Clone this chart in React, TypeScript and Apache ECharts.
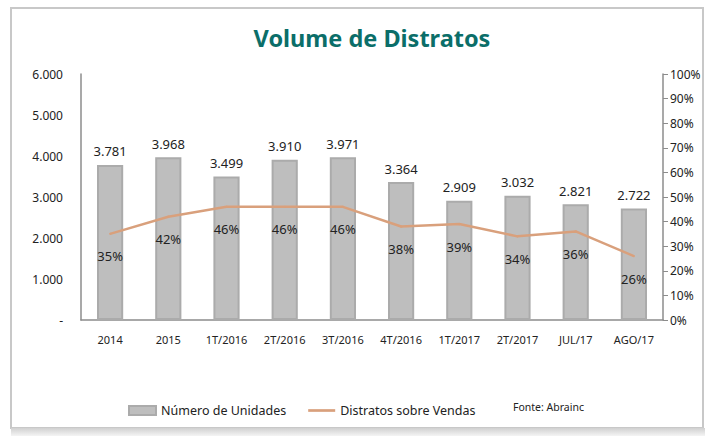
import React, { useEffect, useRef } from "react";
import * as echarts from "echarts";

const categories = ["2014", "2015", "1T/2016", "2T/2016", "3T/2016", "4T/2016", "1T/2017", "2T/2017", "JUL/17", "AGO/17"];
const unidades = [3781, 3968, 3499, 3910, 3971, 3364, 2909, 3032, 2821, 2722];
const distratosPct = [35, 42, 46, 46, 46, 38, 39, 34, 36, 26];

const FONT = "'Noto Sans', 'Open Sans', sans-serif";
const LINE_COLOR = "#D9A07C";

const fmtThousands = (v: number) => (v === 0 ? "-" : v.toLocaleString("de-DE"));

export default function App() {
  const ref = useRef<HTMLDivElement>(null);
  useEffect(() => {
    if (!ref.current) return;
    const chart = echarts.init(ref.current, undefined, { renderer: "svg" });
    chart.setOption({
      animation: false,
      backgroundColor: "#ffffff",
      textStyle: { fontFamily: FONT },
      title: {
        text: "Volume de Distratos",
        left: 367,
        textAlign: "center",
        top: 21,
        textStyle: { color: "#0B6E69", fontSize: 23.5, fontWeight: "bold", fontFamily: FONT },
      },
      grid: { left: 81, right: 42, top: 74, bottom: 116, containLabel: false },
      legend: {
        left: 123,
        top: 399,
        itemWidth: 27,
        itemHeight: 9,
        itemGap: 22,
        textStyle: { fontSize: 12.5, color: "#222", fontFamily: FONT },
        data: [
          { name: "Número de Unidades", icon: "rect" },
          {
            name: "Distratos sobre Vendas",
            icon: "path://M0,0 L30,0 L30,3 L0,3 Z",
            itemStyle: { color: LINE_COLOR, opacity: 1 },
          },
        ],
      },
      graphic: [
        {
          type: "rect",
          shape: { x: 11, y: 8, width: 692, height: 420 },
          style: { fill: "none", stroke: "#C8C8C8", lineWidth: 2 },
          silent: true,
        },
        {
          type: "rect",
          shape: { x: 11, y: 428, width: 694, height: 8 },
          style: {
            fill: new echarts.graphic.LinearGradient(0, 0, 0, 1, [
              { offset: 0, color: "#D0D0D0" },
              { offset: 1, color: "#F4F4F4" },
            ]),
          },
          silent: true,
        },
        {
          type: "text",
          left: 513,
          top: 401,
          style: { text: "Fonte: Abrainc", fill: "#222", font: `10.5px ${FONT}` },
        },
      ],
      xAxis: {
        type: "category",
        data: categories,
        axisLine: { lineStyle: { color: "#8C8C8C", width: 1.5 } },
        axisTick: { show: false },
        axisLabel: { color: "#222", fontSize: 11, margin: 14 },
      },
      yAxis: [
        {
          type: "value",
          min: 0,
          max: 6000,
          interval: 1000,
          position: "left",
          axisLine: { show: true, lineStyle: { color: "#8C8C8C", width: 1.5 } },
          axisTick: { show: false },
          splitLine: { show: false },
          axisLabel: { color: "#222", fontSize: 12, margin: 18, formatter: fmtThousands },
        },
        {
          type: "value",
          min: 0,
          max: 100,
          interval: 10,
          position: "right",
          axisLine: { show: true, lineStyle: { color: "#8C8C8C", width: 1.5 } },
          axisTick: { show: true, length: 5, lineStyle: { color: "#8C8C8C" } },
          splitLine: { show: false },
          axisLabel: { color: "#222", fontSize: 12, margin: 7, formatter: "{value}%" },
        },
      ],
      series: [
        {
          name: "Número de Unidades",
          type: "bar",
          data: unidades,
          barWidth: "45%",
          itemStyle: { color: "#BEBEBE", borderColor: "#ABABAB", borderWidth: 2 },
          label: {
            show: true,
            position: "top",
            distance: 7,
            fontSize: 13,
            color: "#222",
            formatter: (p: any) => fmtThousands(p.value),
          },
        },
        {
          name: "Distratos sobre Vendas",
          type: "line",
          yAxisIndex: 1,
          data: distratosPct,
          symbol: "circle",
          symbolSize: 2,
          showSymbol: true,
          lineStyle: { color: LINE_COLOR, width: 2.5 },
          itemStyle: { color: LINE_COLOR, borderWidth: 0 },
          label: {
            show: true,
            position: "bottom",
            distance: 15,
            fontSize: 13,
            color: "#222",
            formatter: "{c}%",
          },
          labelLayout: { hideOverlap: false },
        },
      ],
    });
    return () => chart.dispose();
  }, []);
  return (
    <div
      ref={ref}
      style={{ position: "fixed", left: 0, top: 0, width: 705, height: 436 }}
    />
  );
}
